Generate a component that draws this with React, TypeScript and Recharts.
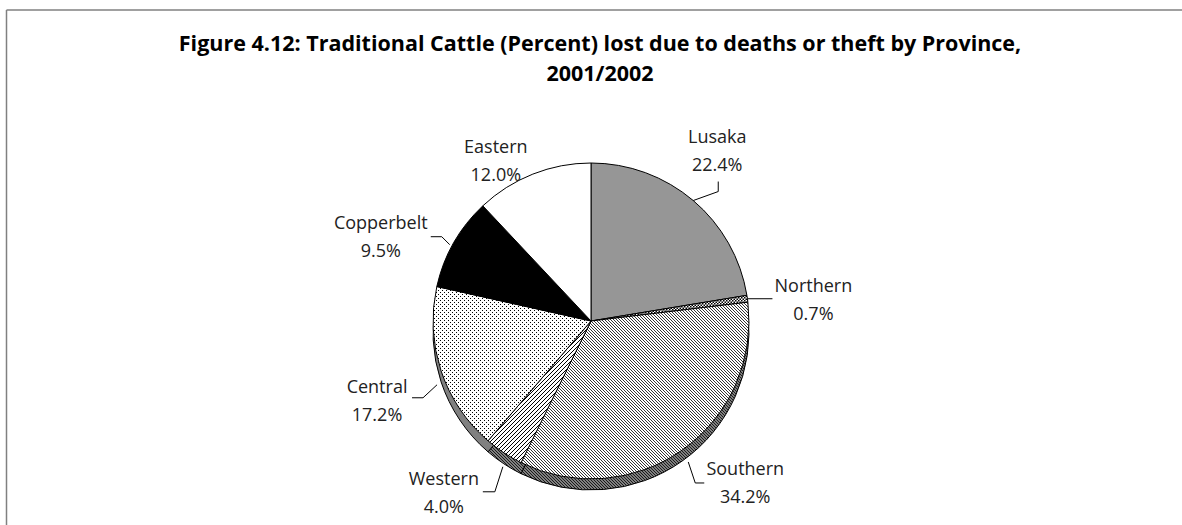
import React from 'react';
import { PieChart, Pie, Cell } from 'recharts';

const PROVINCES = ['Lusaka', 'Northern', 'Southern', 'Western', 'Central', 'Copperbelt', 'Eastern'];
const SHARES = [22.4, 0.7, 34.2, 4.0, 17.2, 9.5, 12.0];

const TITLE_LINES = [
  'Figure 4.12: Traditional Cattle (Percent) lost due to deaths or theft by Province,',
  '2001/2002',
];

const data = PROVINCES.map((name, i) => ({ name, value: SHARES[i] }));

// slice fills (top face) and the darker 3d rim underneath
const TOP_FILLS = ['#969696', 'url(#pNorth)', 'url(#pSouth)', 'url(#pWest)', 'url(#pCentral)', '#000000', '#ffffff'];
const SIDE_FILLS = ['#6b6b6b', '#444444', 'url(#sHatch)', 'url(#sHatch)', '#808080', '#000000', '#8a8a8a'];

// label placement, relative to the point on the rim at the slice's mid angle
const LABEL_POS: Record<string, { dx: number; dy: number; leader?: number[][] }> = {
  Lusaka: { dx: 24, dy: -58, leader: [[0, 0], [25, -9], [25, -19]] },
  Northern: { dx: 66, dy: -7, leader: [[0, 0], [25, 0]] },
  Southern: { dx: 63, dy: 25, leader: [[6, 12], [13, 33], [22, 33]] },
  Western: { dx: -60, dy: 32, leader: [[-1, 14], [-9, 39], [-21, 39]] },
  Central: { dx: -64, dy: 22, leader: [[-4, 14], [-18, 27], [-29, 27]] },
  Copperbelt: { dx: -73, dy: -14, leader: [[-4, 2], [-12, -6], [-23, -6]] },
  Eastern: { dx: -37, dy: -21 },
};

const CX = 586;
const CY = 316;
const R = 158;
const DEPTH = 11;
const FONT = '"Open Sans", sans-serif';

const renderLabel = (props: any) => {
  const { cx, cy, midAngle, outerRadius, name, value } = props;
  const rad = (Math.PI / 180) * midAngle;
  const ax = cx + outerRadius * Math.cos(rad);
  const ay = cy - outerRadius * Math.sin(rad);
  const pos = LABEL_POS[name];
  const tx = ax + pos.dx;
  const ty = ay + pos.dy;
  return (
    <g>
      {pos.leader && (
        <polyline
          points={pos.leader.map(([x, y]) => `${ax + x},${ay + y}`).join(' ')}
          fill="none"
          stroke="#000"
          strokeWidth={1}
        />
      )}
      <text x={tx} y={ty} textAnchor="middle" fontFamily={FONT} fontSize={18} fill="#222">
        {name}
      </text>
      <text x={tx} y={ty + 28} textAnchor="middle" fontFamily={FONT} fontSize={18} fill="#222">
        {value.toFixed(1)}%
      </text>
    </g>
  );
};

export default function App() {
  return (
    <div style={{ position: 'absolute', left: 0, top: 0, width: 1182, height: 525, background: '#fff', overflow: 'hidden' }}>
      <svg width={1182} height={525} style={{ position: 'absolute', left: 0, top: 0 }}>
        <defs>
          <pattern id="pNorth" width="3" height="3" patternUnits="userSpaceOnUse">
            <rect width="3" height="3" fill="#fff" />
            <rect width="1.5" height="1.5" fill="#000" />
            <rect x="1.5" y="1.5" width="1.5" height="1.5" fill="#000" />
          </pattern>
          <pattern id="pSouth" width="3" height="3" patternUnits="userSpaceOnUse">
            <rect width="3" height="3" fill="#fff" />
            <path d="M0,0 L3,3 M-1,2 L1,4 M2,-1 L4,1" stroke="#000" strokeWidth="0.8" />
          </pattern>
          <pattern id="pWest" width="4" height="4" patternUnits="userSpaceOnUse">
            <rect width="4" height="4" fill="#fff" />
            <path d="M0,4 L4,0 M-1,1 L1,-1 M3,5 L5,3" stroke="#000" strokeWidth="1" />
          </pattern>
          <pattern id="pCentral" width="4" height="4" patternUnits="userSpaceOnUse">
            <rect width="4" height="4" fill="#fff" />
            <rect width="1" height="1" fill="#000" />
            <rect x="2" y="2" width="1" height="1" fill="#000" />
          </pattern>
          <pattern id="sHatch" width="3" height="3" patternUnits="userSpaceOnUse">
            <rect width="3" height="3" fill="#808080" />
            <path d="M0,0 L3,3 M-1,2 L1,4 M2,-1 L4,1" stroke="#000" strokeWidth="0.8" />
          </pattern>
        </defs>
        <line x1={6.5} y1={10} x2={1182} y2={10} stroke="#808080" strokeWidth={1.5} />
        <line x1={6.5} y1={10} x2={6.5} y2={525} stroke="#808080" strokeWidth={1.5} />
        {TITLE_LINES.map((t, i) => (
          <text
            key={t}
            x={600}
            y={51 + i * 30}
            textAnchor="middle"
            fontFamily={FONT}
            fontWeight="bold"
            fontSize={21.5}
            fill="#000"
          >
            {t}
          </text>
        ))}
      </svg>
      <div style={{ position: 'absolute', left: 0, top: 0 }}>
        <PieChart width={1182} height={525}>
          <Pie
            data={data}
            dataKey="value"
            nameKey="name"
            cx={CX}
            cy={CY + DEPTH}
            outerRadius={R}
            startAngle={90}
            endAngle={-270}
            stroke="#000"
            strokeWidth={1}
            isAnimationActive={false}
            label={false}
            labelLine={false}
          >
            {data.map((d, i) => (
              <Cell key={`side-${d.name}`} fill={SIDE_FILLS[i]} />
            ))}
          </Pie>
          <Pie
            data={data}
            dataKey="value"
            nameKey="name"
            cx={CX}
            cy={CY}
            outerRadius={R}
            startAngle={90}
            endAngle={-270}
            stroke="#000"
            strokeWidth={1}
            isAnimationActive={false}
            label={renderLabel}
            labelLine={false}
          >
            {data.map((d, i) => (
              <Cell key={`top-${d.name}`} fill={TOP_FILLS[i]} />
            ))}
          </Pie>
        </PieChart>
      </div>
    </div>
  );
}
